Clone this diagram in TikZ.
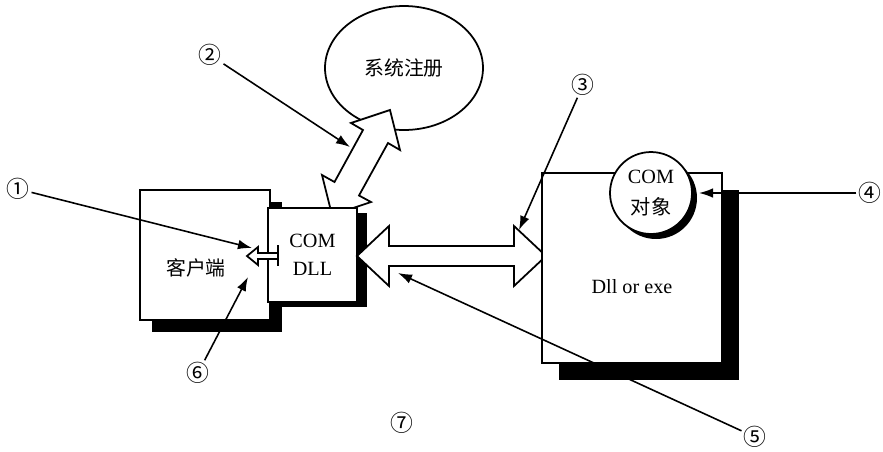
\documentclass[tikz,border=0pt]{standalone}
\usepackage{fontspec}
\setmainfont{Liberation Serif}
\newfontfamily\cjk{Noto Sans CJK SC}
\usetikzlibrary{arrows.meta,shadows,shapes.geometric}

\begin{document}
\begin{tikzpicture}[x=0.02cm,y=-0.02cm,
        caja/.style={draw,fill=white,line width=1pt,inner sep=0pt,align=center,font=\fontsize{11.5}{16}\selectfont},
        sombra/.style 2 args={drop shadow={shadow xshift=#1,shadow yshift=-#2,opacity=1,fill=black}},
        bloque/.style={draw,fill=white,line width=1pt,line join=miter},
        flecha/.style={-{Latex[length=8pt,width=5.5pt]},line width=0.9pt},
        num/.style={font=\cjk\fontsize{13}{13}\selectfont,inner sep=1pt}]
  \useasboundingbox (0,0) rectangle (883,451);

  % registro del sistema
  \node[caja,ellipse,minimum width=3.16cm,minimum height=2.48cm,font=\cjk\fontsize{11.3}{14}\selectfont] (reg) at (404,68) {系统注册};
  % flecha doble DLL <-> registro
  \draw[bloque] (390,110) -- (400,150) -- (388,143) -- (359,195.5) -- (371,202) -- (332,215)
    -- (322,175) -- (334.5,182) -- (363,130) -- (351,123) -- cycle;

  % cliente y COM DLL
  \node[caja,minimum width=2.6cm,minimum height=2.6cm,sombra={0.24cm}{0.24cm}] (cli) at (205,255) {};
  \node[font=\cjk\fontsize{11.3}{14}\selectfont] (clitxt) at (196,268) {客户端};
  \node[caja,minimum width=1.78cm,minimum height=1.88cm,sombra={0.2cm}{0.1cm}] (dll) at (312.5,255) {COM\\DLL};

  % flecha doble DLL <-> servidor
  \draw[bloque] (357,256) -- (389,226) -- (389,246) -- (514,246) -- (514,226) -- (546,256)
    -- (514,286) -- (514,266) -- (389,266) -- (389,286) -- cycle;

  % servidor con el objeto COM
  \node[caja,minimum width=3.6cm,minimum height=3.8cm,sombra={0.34cm}{0.34cm}] (srv) at (632,268) {};
  \node[font=\fontsize{11.5}{14}\selectfont] (srvtxt) at (632,287) {Dll or exe};
  \node[caja,circle,minimum size=1.64cm,sombra={0.1cm}{0.1cm},font=\fontsize{11.5}{17.5}\selectfont] (obj) at (651,193) {COM\\{\cjk 对象}};

  % interfaz
  \draw[bloque] (247,256) -- (258,247) -- (258,253) -- (278,253) -- (278,259) -- (258,259) -- (258,265) -- cycle;
  \draw[line width=1.6pt] (278,245) -- (278,266);

  % puntos de las llamadas
  \coordinate (p1) at (252,248);
  \coordinate (p2) at (350,147);
  \coordinate (p3) at (519,230);
  \coordinate (p4) at (699,193);
  \coordinate (p5) at (398,273);
  \coordinate (p6) at (248,277);

  \node[num] (n1) at (18,189) {①};
  \node[num] (n2) at (210,55) {②};
  \node[num] (n3) at (583,85) {③};
  \node[num] (n4) at (870,193) {④};
  \node[num] (n5) at (755,437) {⑤};
  \node[num] (n6) at (198,373) {⑥};
  \node[num] (n7) at (402,423) {⑦};

  \draw[flecha] (n1) -- (p1);
  \draw[flecha] (n2) -- (p2);
  \draw[flecha] (n3) -- (p3);
  \draw[flecha] (n4) -- (p4);
  \draw[flecha] (n5) -- (p5);
  \draw[flecha] (n6) -- (p6);
\end{tikzpicture}
\end{document}
